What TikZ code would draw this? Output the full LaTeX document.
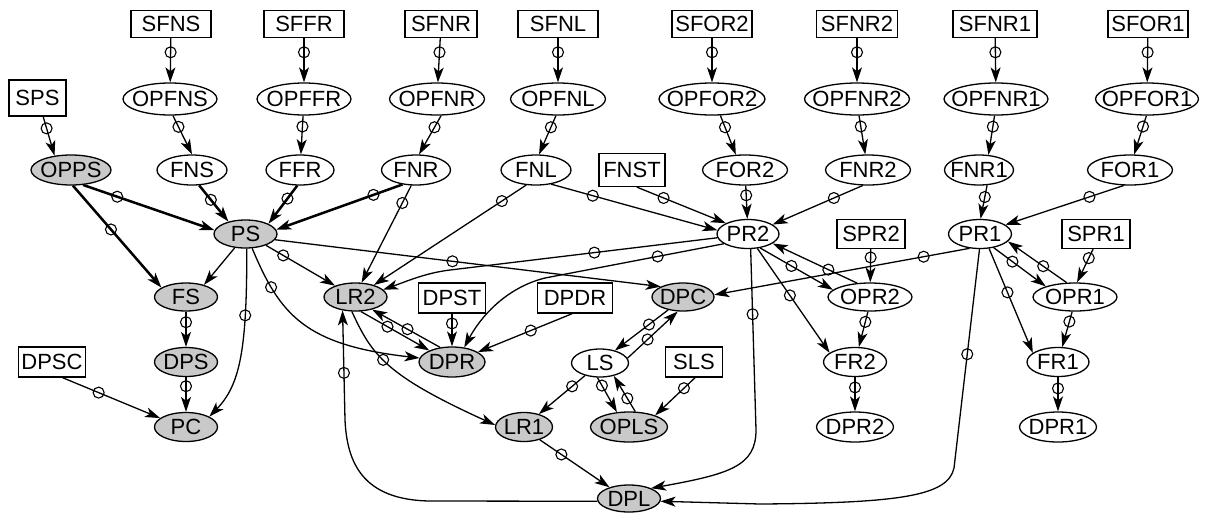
\documentclass[tikz,border=0pt]{standalone}
\usepackage{fontspec}
\setmainfont{Liberation Sans}
\usetikzlibrary{shapes.geometric,arrows.meta}
\definecolor{ngray}{RGB}{201,201,201}
\newcommand{\nt}[1]{\makebox[0pt][c]{#1}}
\tikzset{
  el/.style={ellipse, draw, line width=1.3pt, inner sep=0pt, minimum height=29pt},
  gel/.style={el, fill=ngray},
  bx/.style={rectangle, draw, line width=1.3pt, inner sep=0pt, minimum height=29pt},
  e/.style={draw, line width=1.3pt, -{Stealth[length=15pt,width=10pt,inset=4pt]}},
  te/.style={e, line width=2.5pt},
  m/.style={circle, draw, line width=1.1pt, inner sep=0pt, minimum size=11pt, fill=none, solid},
}
\begin{document}
\begin{tikzpicture}[x=1pt,y=-1pt,font=\fontsize{22}{26}\selectfont]
\useasboundingbox (0,0) rectangle (1206,515);
% row 1
\node[bx, minimum width=80pt, minimum height=27pt] (SFNS) at (171,24) {\nt{SFNS}};
\node[bx, minimum width=80pt, minimum height=27pt] (SFFR) at (304,24) {\nt{SFFR}};
\node[bx, minimum width=72pt, minimum height=27pt] (SFNR) at (441,24) {\nt{SFNR}};
\node[bx, minimum width=80pt, minimum height=27pt] (SFNL) at (558,24) {\nt{SFNL}};
\node[bx, minimum width=80pt, minimum height=27pt] (SFOR2) at (712,24) {\nt{SFOR2}};
\node[bx, minimum width=81pt, minimum height=27pt] (SFNR2) at (857,24) {\nt{SFNR2}};
\node[bx, minimum width=84pt, minimum height=27pt] (SFNR1) at (995,24) {\nt{SFNR1}};
\node[bx, minimum width=80pt, minimum height=27pt] (SFOR1) at (1148,24) {\nt{SFOR1}};
% row 2
\node[bx, minimum width=57pt, minimum height=36pt] (SPS) at (37.5,98) {\nt{SPS}};
\node[el, minimum width=94pt, minimum height=32pt] (OPFNS) at (170,99) {\nt{OPFNS}};
\node[el, minimum width=94pt, minimum height=32pt] (OPFFR) at (304,99) {\nt{OPFFR}};
\node[el, minimum width=95pt, minimum height=32pt] (OPFNR) at (437,99) {\nt{OPFNR}};
\node[el, minimum width=95pt, minimum height=32pt] (OPFNL) at (558,99) {\nt{OPFNL}};
\node[el, minimum width=106pt, minimum height=32pt] (OPFOR2) at (712,99) {\nt{OPFOR2}};
\node[el, minimum width=105pt, minimum height=32pt] (OPFNR2) at (857,99) {\nt{OPFNR2}};
\node[el, minimum width=104pt, minimum height=32pt] (OPFNR1) at (996,99) {\nt{OPFNR1}};
\node[el, minimum width=103pt, minimum height=32pt] (OPFOR1) at (1147,99) {\nt{OPFOR1}};
% row 3
\node[gel, minimum width=80pt, minimum height=30pt] (OPPS) at (71,170) {\nt{OPPS}};
\node[el, minimum width=70pt, minimum height=30pt] (FNS) at (192,170) {\nt{FNS}};
\node[el, minimum width=68pt, minimum height=30pt] (FFR) at (300,170) {\nt{FFR}};
\node[el, minimum width=69pt, minimum height=30pt] (FNR) at (416,170) {\nt{FNR}};
\node[el, minimum width=70pt, minimum height=30pt] (FNL) at (536,170) {\nt{FNL}};
\node[bx, minimum width=66pt, minimum height=33pt] (FNST) at (632,170) {\nt{FNST}};
\node[el, minimum width=85pt, minimum height=30pt] (FOR2) at (745,170) {\nt{FOR2}};
\node[el, minimum width=85pt, minimum height=30pt] (FNR2) at (868,170) {\nt{FNR2}};
\node[el, minimum width=69pt, minimum height=30pt] (FNR1) at (979,170) {\nt{FNR1}};
\node[el, minimum width=85pt, minimum height=30pt] (FOR1) at (1130,170) {\nt{FOR1}};
% row 4
\node[gel, minimum width=63pt, minimum height=28pt] (PS) at (245.5,234) {\nt{PS}};
\node[el, minimum width=62pt, minimum height=29pt] (PR2) at (748,234) {\nt{PR2}};
\node[bx, minimum width=68pt, minimum height=29pt] (SPR2) at (871,234) {\nt{SPR2}};
\node[el, minimum width=63pt, minimum height=29pt] (PR1) at (980,234) {\nt{PR1}};
\node[bx, minimum width=68pt, minimum height=29pt] (SPR1) at (1096,234) {\nt{SPR1}};
% row 5
\node[gel, minimum width=63pt, minimum height=28pt] (FS) at (186,297) {\nt{FS}};
\node[gel, minimum width=63pt, minimum height=28pt] (LR2) at (355.5,297) {\nt{LR2}};
\node[bx, minimum width=67pt, minimum height=30pt] (DPST) at (452,298) {\nt{DPST}};
\node[bx, minimum width=75pt, minimum height=30pt] (DPDR) at (575,298) {\nt{DPDR}};
\node[gel, minimum width=62pt, minimum height=28pt] (DPC) at (683,297) {\nt{DPC}};
\node[el, minimum width=84pt, minimum height=28pt] (OPR2) at (870,297) {\nt{OPR2}};
\node[el, minimum width=84pt, minimum height=28pt] (OPR1) at (1075,297) {\nt{OPR1}};
% row 6
\node[bx, minimum width=67pt, minimum height=30pt] (DPSC) at (52,362) {\nt{DPSC}};
\node[gel, minimum width=63pt, minimum height=29pt] (DPS) at (186,362) {\nt{DPS}};
\node[gel, minimum width=66pt, minimum height=30pt] (DPR) at (452,362) {\nt{DPR}};
\node[el, minimum width=57pt, minimum height=28pt] (LS) at (600,363) {\nt{LS}};
\node[bx, minimum width=57pt, minimum height=30pt] (SLS) at (694,362) {\nt{SLS}};
\node[el, minimum width=63pt, minimum height=29pt] (FR2) at (855,362) {\nt{FR2}};
\node[el, minimum width=62pt, minimum height=29pt] (FR1) at (1058,362) {\nt{FR1}};
% row 7
\node[gel, minimum width=63pt, minimum height=29pt] (PC) at (186,427) {\nt{PC}};
\node[gel, minimum width=57pt, minimum height=29pt] (LR1) at (524,427) {\nt{LR1}};
\node[gel, minimum width=77pt, minimum height=30pt] (OPLS) at (629,427) {\nt{OPLS}};
\node[el, minimum width=77pt, minimum height=30pt] (DPR2) at (855,427) {\nt{DPR2}};
\node[el, minimum width=77pt, minimum height=30pt] (DPR1) at (1058,427) {\nt{DPR1}};
% row 8
\node[gel, minimum width=63pt, minimum height=27pt] (DPL) at (629,498.5) {\nt{DPL}};

% ---- edges: row 1 -> row 2
\draw[e] (SFNS) -- (OPFNS) node[m,pos=.32]{};
\draw[e] (SFFR) -- (OPFFR) node[m,pos=.32]{};
\draw[e] (SFNR) -- (OPFNR) node[m,pos=.32]{};
\draw[e] (SFNL) -- (OPFNL) node[m,pos=.32]{};
\draw[e] (SFOR2) -- (OPFOR2) node[m,pos=.32]{};
\draw[e] (SFNR2) -- (OPFNR2) node[m,pos=.32]{};
\draw[e] (SFNR1) -- (OPFNR1) node[m,pos=.32]{};
\draw[e] (SFOR1) -- (OPFOR1) node[m,pos=.32]{};
\draw[e] (SPS.-73) -- (OPPS.139) node[m,pos=.3]{};
% row 2 -> row 3
\draw[e] (OPFNS.-80) -- (FNS.90) node[m,pos=.29]{};
\draw[e] (OPFFR) -- (FFR) node[m,pos=.28]{};
\draw[e] (OPFNR.-76) -- (FNR.79) node[m,pos=.3]{};
\draw[e] (OPFNL.-97) -- (FNL.79) node[m,pos=.3]{};
\draw[e] (OPFOR2.-63) -- (FOR2.121) node[m,pos=.3]{};
\draw[e] (OPFNR2.-83) -- (FNR2.100) node[m,pos=.28]{};
\draw[e] (OPFNR1.-95) -- (FNR1.58) node[m,pos=.28]{};
\draw[e] (OPFOR1.-92) -- (FOR1.75) node[m,pos=.28]{};
% into PS (thick)
\draw[te] (OPPS.-51) -- (PS.173) node[m,pos=.26]{};
\draw[te] (OPPS.-83) -- (FS.159) node[m,pos=.43]{};
\draw[te] (FNS.-65) -- (PS.144) node[m,pos=.4]{};
\draw[te] (FFR.-100) -- (PS.24) node[m,pos=.34]{};
\draw[te] (FNR.-133) -- (PS.8) node[m,pos=.23]{};
% row 3 -> others
\draw[e] (FNR.-107) -- (LR2.67) node[m,pos=.18]{};
\draw[e] (FNL.-123) -- (LR2.33) node[m,pos=.16]{};
\draw[e] (FNL.-43) -- (PR2.173) node[m,pos=.25]{};
\draw[e] (FNST.-74) -- (PR2.154) node[m,pos=.3]{};
\draw[e] (FOR2) -- (PR2) node[m,pos=.29]{};
\draw[e] (FNR2.-109) -- (PR2.21) node[m,pos=.32]{};
\draw[e] (FNR1.-62) -- (PR1.88) node[m,pos=.35]{};
\draw[e] (FOR1.-112) -- (PR1.20) node[m,pos=.29]{};
% PS out
\draw[e] (PS.-11) -- (DPC.155) node[m,pos=.46]{};
\draw[e] (PS.-29) -- (LR2.151) node[m,pos=.25]{};
\draw[e] (PS.-128) -- (FS.34);
\draw[e] (PS.-85) .. controls (247,350) and (240,385) .. (PC.24) node[m,pos=.26]{};
\draw[e] (PS.-65) .. controls (280,315) and (305,345) .. (DPR.173) node[m,pos=.22]{};
\draw[e] (FS) -- (DPS) node[m,pos=.3]{};
\draw[e] (DPS) -- (PC) node[m,pos=.26]{};
\draw[e] (DPSC.-56) -- (PC.161) node[m,pos=.37]{};
% LR2 / DPR
\draw[e] (LR2.-70) -- (DPR.153) node[m,pos=.39]{};
\draw[e] (DPR.129) -- (LR2.-37) node[m,pos=.48]{};
\draw[e] (LR2.-104) .. controls (372,355) and (385,375) .. (LR1.176) node[m,pos=.44]{};
\draw[e] (DPL.185) -- (430,501) .. controls (362,500) and (347,462) .. (345,420) -- (LR2.-134) node[m,pos=.43]{};
\draw[e] (DPST) -- (DPR) node[m,pos=.3]{};
\draw[e] (DPDR.-100) -- (DPR.21) node[m,pos=.44]{};
% PR2 out
\draw[e] (PR2.187) -- (450,270) node[m,pos=.46]{} .. controls (425,273) and (405,282) .. (LR2.15);
\draw[e] (PR2.-158) -- (545,278) node[m,pos=.37]{} .. controls (505,288) and (480,318) .. (DPR.50);
\draw[e] (PR2.-80) -- (756,430) node[m,pos=.36]{} .. controls (756,466) and (730,474) .. (DPL.25);
\draw[e] (PR2.-49) -- (OPR2.169) node[m,pos=.43]{};
\draw[e] (OPR2.133) -- (PR2.-21) node[m,pos=.34]{};
\draw[e] (PR2.-57) -- (FR2.160) node[m,pos=.45]{};
\draw[e] (SPR2) -- (OPR2) node[m,pos=.25]{};
\draw[e] (OPR2.-98) -- (FR2) node[m,pos=.29]{};
\draw[e] (FR2) -- (DPR2) node[m,pos=.3]{};
% PR1 out
\draw[e] (PR1.-126) -- (DPC.4) node[m,pos=.18]{};
\draw[e] (PR1.-92) -- (954,468) node[m,pos=.48]{} .. controls (948,496) and (900,503) .. (760,504) -- (DPL.-5);
\draw[e] (PR1.-45) -- (OPR1.160) node[m,pos=.36]{};
\draw[e] (OPR1.120) -- (PR1.-15) node[m,pos=.4]{};
\draw[e] (PR1.-58) -- (FR1.160) node[m,pos=.42]{};
\draw[e] (SPR1.-101) -- (OPR1.82) node[m,pos=.27]{};
\draw[e] (OPR1.-101) -- (FR1) node[m,pos=.28]{};
\draw[e] (FR1) -- (DPR1) node[m,pos=.33]{};
% LS cluster
\draw[e] (DPC.-139) -- (LS.40) node[m,pos=.36]{};
\draw[e] (LS.10) -- (DPC.-110) node[m,pos=.4]{};
\draw[e] (LS.-140) -- (LR1.41) node[m,pos=.28]{};
\draw[e] (LS.-100) -- (OPLS.129) node[m,pos=.23]{};
\draw[e] (OPLS.68) -- (LS.-43) node[m,pos=.37]{};
\draw[e] (SLS.-86) -- (OPLS.24) node[m,pos=.28]{};
\draw[e] (LR1.-39) -- (DPL.150) node[m,pos=.31]{};
\end{tikzpicture}
\end{document}
